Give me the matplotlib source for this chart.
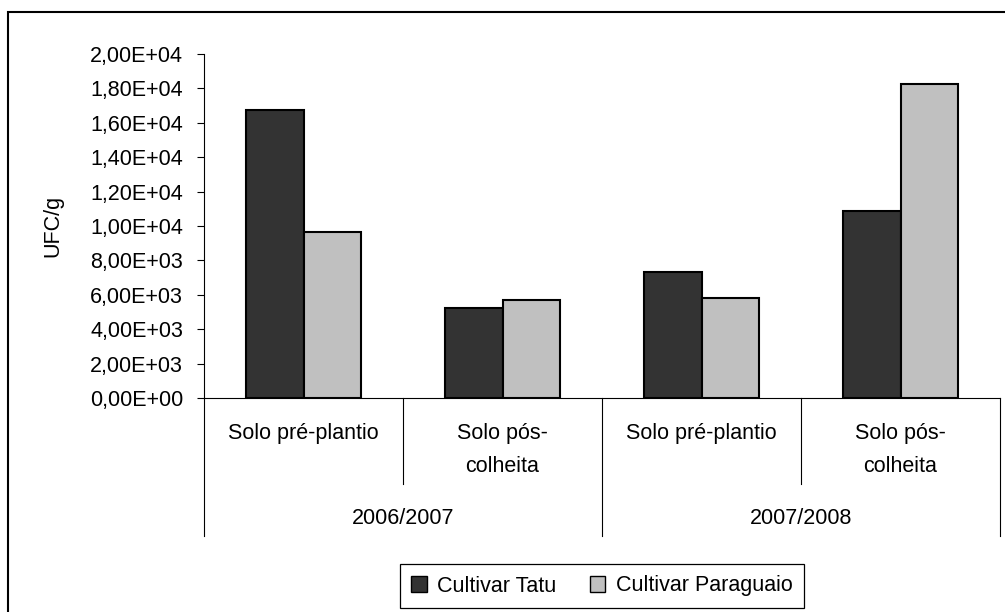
import matplotlib.pyplot as plt
from matplotlib.patches import Patch, Rectangle
from matplotlib.ticker import FuncFormatter, MultipleLocator
import matplotlib.transforms as mtransforms

plt.rcParams['font.family'] = ['Liberation Sans', 'DejaVu Sans']

# UFC/g per season and soil sampling time
seasons = ["2006/2007", "2007/2008"]
stages = ["Solo pré-plantio", "Solo pós-\ncolheita"]
tatu = [16750, 5230, 7340, 10850]
paraguaio = [9670, 5700, 5830, 18270]
series_names = ["Cultivar Tatu", "Cultivar Paraguaio"]

W, H = 1005, 612
FS = 15.5
fig = plt.figure(figsize=(W / 100, H / 100), dpi=100)
ax = fig.add_axes([204 / W, 1 - 398 / H, 796 / W, 344 / H])

x = list(range(len(tatu)))
bw = 0.29
ax.bar([i - bw / 2 for i in x], tatu, bw, color="#333333", edgecolor="black", linewidth=1.5)
ax.bar([i + bw / 2 for i in x], paraguaio, bw, color="#c0c0c0", edgecolor="black", linewidth=1.5)

ax.set_xlim(-0.5, len(x) - 0.5)
ax.set_ylim(0, 20000)
ax.yaxis.set_major_locator(MultipleLocator(2000))
ax.yaxis.set_major_formatter(FuncFormatter(lambda v, p: f"{v:.2E}".replace(".", ",")))
ax.tick_params(axis="y", direction="out", length=5, width=0.8, pad=10, labelsize=FS)
ax.set_xticks([])
for s in ("top", "right"):
    ax.spines[s].set_visible(False)
for s in ("left", "bottom"):
    ax.spines[s].set_linewidth(0.8)
ax.set_ylabel("UFC/g", fontsize=FS)
ax.yaxis.set_label_coords((53 - 204) / 796, 0.5)
ax.yaxis.label.set_va("center")

# two-level category axis below the plot
trans = mtransforms.blended_transform_factory(ax.transData, ax.transAxes)
inner_y = -(484 - 398) / 344
outer_y = -(536 - 398) / 344
for b in [-0.5, 1.5, 3.5]:
    ax.plot([b, b], [0, outer_y], color="black", lw=0.8, transform=trans, clip_on=False)
for b in [0.5, 2.5]:
    ax.plot([b, b], [0, inner_y], color="black", lw=0.8, transform=trans, clip_on=False)

for i in x:
    lines = stages[i % 2].split("\n")
    for k, line in enumerate(lines):
        ax.text(i, -(434 + 33 * k - 398) / 344, line, transform=trans,
                ha="center", va="center", fontsize=FS)
for j, s in enumerate(seasons):
    ax.text(2 * j + 0.5, -(518 - 398) / 344, s, transform=trans,
            ha="center", va="center", fontsize=FS)

handles = [Patch(facecolor="#333333", edgecolor="black", linewidth=1.0),
           Patch(facecolor="#c0c0c0", edgecolor="black", linewidth=1.0)]
leg = fig.legend(handles, series_names, loc="center", ncol=2,
                 bbox_to_anchor=(602 / W, 1 - 586 / H), fontsize=FS,
                 frameon=True, fancybox=False, edgecolor="black", framealpha=1,
                 handlelength=0.7, handleheight=0.7, handletextpad=0.5,
                 columnspacing=1.55, borderpad=0.55, borderaxespad=0)
leg.get_frame().set_linewidth(0.9)

# chart border
fig.add_artist(Rectangle((8 / W, -0.1), 1.2, 1.1 - 12 / H, transform=fig.transFigure,
                         fill=False, edgecolor="black", linewidth=1.5))

fig.savefig("out.png", dpi=100)
